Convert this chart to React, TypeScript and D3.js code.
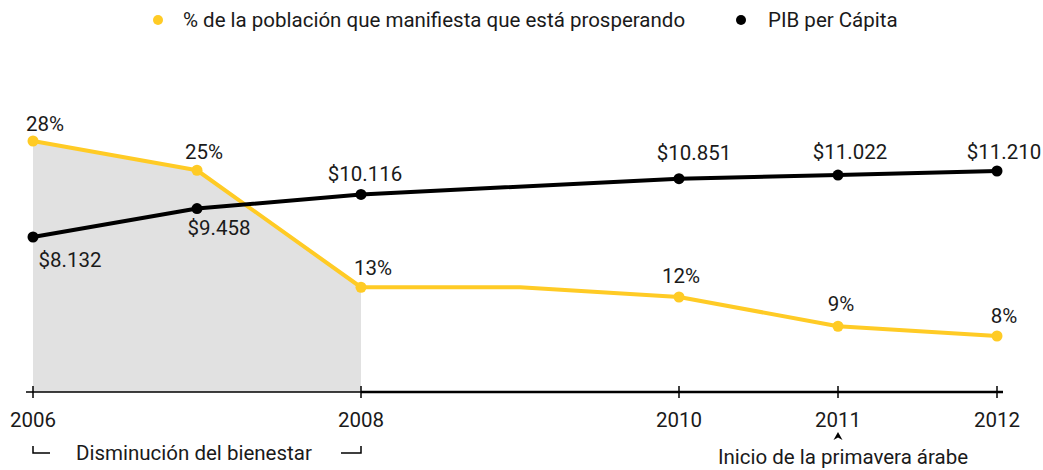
import React from 'react';
import * as d3 from 'd3';

// ---- data ----
const prospYears = [2006, 2007, 2008, 2009, 2010, 2011, 2012];
const prospValues = [28, 25, 13, 13, 12, 9, 8];
const prospLabels = ['28%', '25%', '13%', '', '12%', '9%', '8%'];

const gdpYears = [2006, 2007, 2008, 2010, 2011, 2012];
const gdpValues = [8132, 9458, 10116, 10851, 11022, 11210];
const gdpLabels = ['$8.132', '$9.458', '$10.116', '$10.851', '$11.022', '$11.210'];

const tickYears = [2006, 2008, 2010, 2011, 2012];
const shadeUntil = 2008;

const legendItems = ['% de la población que manifiesta que está prosperando', 'PIB per Cápita'];
const annotationDecline = 'Disminución del bienestar';
const annotationSpring = 'Inicio de la primavera árabe';
const springYear = 2011;

// ---- layout ----
const W = 1043;
const H = 470;
const YELLOW = '#FFCB25';
const BLACK = '#000000';
const TEXT = '#1a1a1a';
const FONT = 'Roboto, "Noto Sans", sans-serif';
const FS = 20.5;
const FW = 400;
const axisY = 392;

// label offsets (layout only)
const prospLabelDx = [12, 7, 12, 0, 2, 3, 7];
const prospLabelDy = [-10, -11, -12, 0, -14, -15, -13];
const gdpLabelDx = [37, 22, 4, 15, 12, 7];
const gdpLabelDy = [30, 26, -13, -19, -16, -12];

export default function App() {
  const x = d3.scaleLinear().domain([2006, 2008, 2012]).range([33, 361, 997]);
  const yP = d3.scaleLinear().domain([8, 28]).range([336, 141]);
  const yG = d3.scaleLinear().domain([8132, 11210]).range([237, 171]);

  const prosp = prospYears.map((yr, i) => ({ yr, v: prospValues[i], label: prospLabels[i], i }));
  const gdp = gdpYears.map((yr, i) => ({ yr, v: gdpValues[i], label: gdpLabels[i], i }));

  const lineP = d3.line<any>().x(d => x(d.yr)).y(d => yP(d.v));
  const lineG = d3.line<any>().x(d => x(d.yr)).y(d => yG(d.v));
  const area = d3
    .area<any>()
    .x(d => x(d.yr))
    .y0(axisY)
    .y1(d => yP(d.v));
  const shaded = prosp.filter(d => d.yr <= shadeUntil);

  const xShadeEnd = x(shadeUntil);
  const xFirst = x(tickYears[0]);
  const xSpring = x(springYear);

  return (
    <svg
      width={W}
      height={H}
      style={{ position: 'absolute', left: 0, top: 0, background: '#fff' }}
      fontFamily={FONT}
      fontWeight={FW}
    >
      <rect width={W} height={H} fill="#fff" />
      {/* legend */}
      <circle cx={158} cy={20} r={5} fill={YELLOW} />
      <text x={183} y={27} fontSize={FS} fill={TEXT}>{legendItems[0]}</text>
      <circle cx={741} cy={20} r={5} fill={BLACK} />
      <text x={768} y={27} fontSize={FS} fill={TEXT}>{legendItems[1]}</text>

      {/* shaded area */}
      <path d={area(shaded) || ''} fill="#e1e1e1" />

      {/* axis */}
      <line x1={26} x2={xShadeEnd} y1={axisY} y2={axisY} stroke={BLACK} strokeWidth={1.5} />
      <line x1={xShadeEnd} x2={1003} y1={axisY} y2={axisY} stroke={BLACK} strokeWidth={2.5} />
      {tickYears.map(t => (
        <g key={t}>
          <line x1={x(t)} x2={x(t)} y1={386} y2={398} stroke={BLACK} strokeWidth={1.5} />
          <text x={x(t)} y={427} fontSize={FS} textAnchor="middle" fill={TEXT}>{t}</text>
        </g>
      ))}

      {/* lines */}
      <path d={lineP(prosp) || ''} fill="none" stroke={YELLOW} strokeWidth={4} strokeLinejoin="round" />
      <path d={lineG(gdp) || ''} fill="none" stroke={BLACK} strokeWidth={4} strokeLinejoin="round" />

      {prosp.filter(d => d.label).map(d => (
        <g key={'p' + d.i}>
          <circle cx={x(d.yr)} cy={yP(d.v)} r={5.5} fill={YELLOW} />
          <text
            x={x(d.yr) + prospLabelDx[d.i]}
            y={yP(d.v) + prospLabelDy[d.i]}
            fontSize={FS}
            textAnchor="middle"
            fill={TEXT}
          >
            {d.label}
          </text>
        </g>
      ))}
      {gdp.map(d => (
        <g key={'g' + d.i}>
          <circle cx={x(d.yr)} cy={yG(d.v)} r={5.5} fill={BLACK} />
          <text
            x={x(d.yr) + gdpLabelDx[d.i]}
            y={yG(d.v) + gdpLabelDy[d.i]}
            fontSize={FS}
            textAnchor="middle"
            fill={TEXT}
          >
            {d.label}
          </text>
        </g>
      ))}

      {/* annotations */}
      <path d={`M${xFirst},446 V453 H${xFirst + 17}`} fill="none" stroke={BLACK} strokeWidth={1.5} />
      <path d={`M${xShadeEnd - 20},453 H${xShadeEnd} V446`} fill="none" stroke={BLACK} strokeWidth={1.5} />
      <text x={76} y={460} fontSize={FS} fill={TEXT}>{annotationDecline}</text>

      <path
        d={`M${xSpring - 4.5},440 L${xSpring},432 L${xSpring + 4.5},440 L${xSpring},437.5 Z`}
        fill={BLACK}
      />
      <text x={843} y={464} fontSize={FS} textAnchor="middle" fill={TEXT}>{annotationSpring}</text>
    </svg>
  );
}
